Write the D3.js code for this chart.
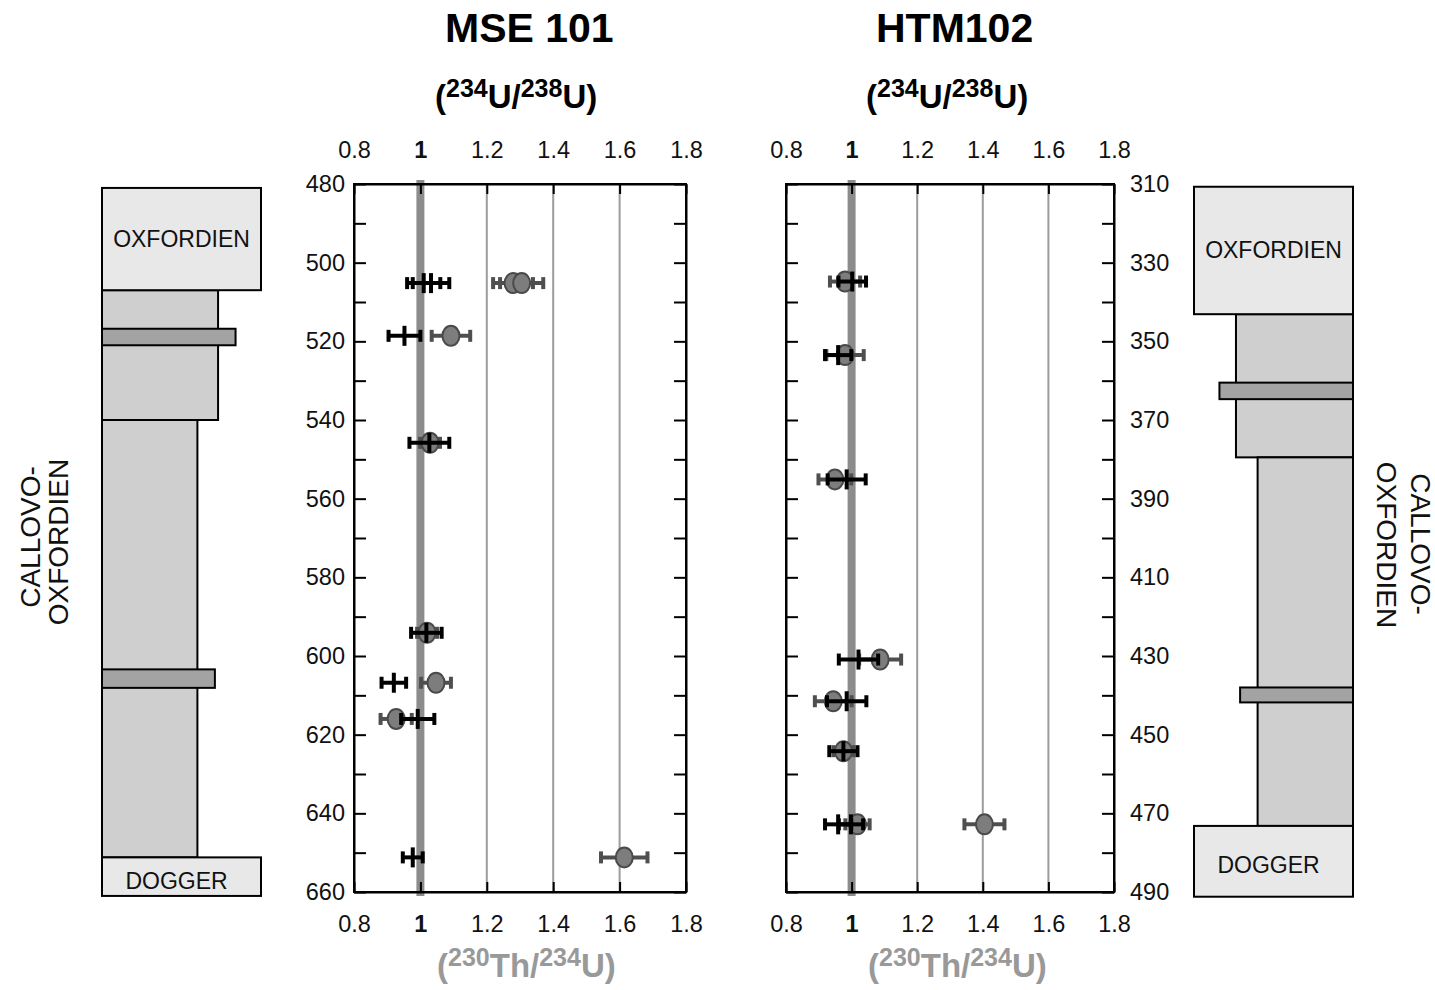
<!DOCTYPE html>
<html><head><meta charset="utf-8">
<script src="https://cdn.jsdelivr.net/npm/d3@7"></script>
<style>
body{margin:0;background:#fff}
svg{display:block}
text{font-family:"Liberation Sans",Arial,Helvetica,sans-serif}
</style>
</head><body>
<svg id="chart" width="1435" height="990"></svg>
<script>
// ---------------- DATA ----------------
const ratioTicks = [0.8, 1.0, 1.2, 1.4, 1.6, 1.8];
const gridValues = [1.2, 1.4, 1.6];
const equilibrium = 1.0;

const mseDepthLabels = [480, 500, 520, 540, 560, 580, 600, 620, 640, 660];
const htmDepthLabels = [310, 330, 350, 370, 390, 410, 430, 450, 470, 490];

// MSE 101 samples (depth m)
const mseDepth  = [505.2, 505.2, 518.6, 545.8, 594.1, 606.8, 616.0, 651.2];
const mseU      = [1.010, 1.032, 0.952, 1.027, 1.018, 0.920, 0.992, 0.977];   // (234U/238U)
const mseUerr   = [0.050, 0.055, 0.048, 0.060, 0.046, 0.037, 0.050, 0.030];
const mseTh     = [1.279, 1.305, 1.092, 1.029, 1.020, 1.047, 0.927, 1.614];   // (230Th/234U)
const mseThErr  = [0.060, 0.065, 0.058, 0.030, 0.030, 0.045, 0.047, 0.070];

// HTM102 samples (depth m)
const htmDepth  = [334.8, 353.5, 385.1, 430.9, 441.5, 454.2, 472.8, 472.8];
const htmU      = [1.002, 0.959, 0.985, 1.021, 0.985, 0.975, 0.959, 0.998];
const htmUerr   = [0.042, 0.040, 0.058, 0.060, 0.060, 0.043, 0.040, 0.037];
const htmTh     = [0.980, 0.980, 0.949, 1.087, 0.944, 0.975, 1.405, 1.018];
const htmThErr  = [0.046, 0.057, 0.050, 0.064, 0.056, 0.030, 0.061, 0.037];

// Stratigraphic columns: top/bottom depth, lithology index (relative column width), kind
const mseLayerTop    = [507.0, 540.0, 516.8, 603.4, 481.0, 651.2];
const mseLayerBottom = [540.0, 651.2, 521.0, 608.1, 507.0, 661.0];
const mseLayerLitho  = [0.73, 0.60, 0.84, 0.71, 1.0, 1.0];
const mseLayerKind   = ["clay", "clay", "band", "band", "formation", "formation"];
const mseLayerLabel  = ["", "", "", "", "OXFORDIEN", "DOGGER"];

const htmLayerTop    = [343.1, 379.5, 360.5, 438.0, 310.7, 473.2];
const htmLayerBottom = [379.5, 473.2, 364.7, 441.8, 343.1, 491.2];
const htmLayerLitho  = [0.736, 0.60, 0.84, 0.71, 1.0, 1.0];
const htmLayerKind   = ["clay", "clay", "band", "band", "formation", "formation"];
const htmLayerLabel  = ["", "", "", "", "OXFORDIEN", "DOGGER"];

const unitName = ["CALLOVO-", "OXFORDIEN"];

// ---------------- DRAW ----------------
const svg = d3.select("#chart");
const FONT = '"Liberation Sans",Arial,Helvetica,sans-serif';
const fill = {clay: "#cfcfcf", band: "#a3a3a3", formation: "#e8e8e8"};
const PLOT_TOP = 184, PLOT_BOTTOM = 892;

function ratioText(g, x, y, parts, color) {
  const t = g.append("text").attr("x", x).attr("y", y)
    .attr("font-weight", "bold").attr("font-size", 33).attr("fill", color);
  let sup = false;
  parts.forEach(p => {
    const isSup = p[1] === 1;
    const ts = t.append("tspan").text(p[0]);
    if (isSup) { ts.attr("font-size", 25).attr("dy", sup ? 0 : -11); }
    else { ts.attr("dy", sup ? 11 : 0); }
    sup = isSup;
  });
}

function drawPanel(cfg) {
  const x = d3.scaleLinear().domain([0.8, 1.8]).range(cfg.xRange);
  const y = d3.scaleLinear().domain(cfg.depthDomain).range([PLOT_TOP, PLOT_BOTTOM]);
  const g = svg.append("g");

  // grid lines
  g.selectAll("line.grid").data(gridValues).join("line")
    .attr("x1", d => x(d)).attr("x2", d => x(d))
    .attr("y1", PLOT_TOP).attr("y2", PLOT_BOTTOM)
    .attr("stroke", "#9c9c9c").attr("stroke-width", 2);
  // equilibrium line
  g.append("line").attr("x1", x(equilibrium)).attr("x2", x(equilibrium))
    .attr("y1", PLOT_TOP - 4).attr("y2", PLOT_BOTTOM + 4)
    .attr("stroke", "#8c8c8c").attr("stroke-width", 8);

  const fmt = d => d === 1 ? "1" : d3.format(".1f")(d);
  const styleAxis = sel => {
    sel.attr("font-family", FONT).attr("font-size", 23.5);
    sel.select(".domain").attr("stroke-width", 2);
    sel.selectAll(".tick line").attr("stroke-width", 2);
    sel.selectAll(".tick text").attr("fill", "#111");
  };

  const topAx = d3.axisTop(x).tickValues(ratioTicks).tickSize(-10).tickSizeOuter(0).tickPadding(26).tickFormat(fmt);
  g.append("g").attr("transform", `translate(0,${PLOT_TOP})`).call(topAx).call(styleAxis)
    .selectAll(".tick text").attr("font-weight", d => d === 1 ? "bold" : null);
  const botAx = d3.axisBottom(x).tickValues(ratioTicks).tickSize(-10).tickSizeOuter(0).tickPadding(23).tickFormat(fmt);
  g.append("g").attr("transform", `translate(0,${PLOT_BOTTOM})`).call(botAx).call(styleAxis)
    .selectAll(".tick text").attr("font-weight", d => d === 1 ? "bold" : null);

  const [d0, d1] = cfg.depthDomain;
  const depthTicks = d3.range(d0, d1 + 1, 10);
  const lab = d => cfg.depthLabels.includes(d) ? String(d) : "";
  const leftAx = d3.axisLeft(y).tickValues(depthTicks).tickSize(-12).tickSizeOuter(0).tickPadding(9)
    .tickFormat(cfg.labelSide === "left" ? lab : () => "");
  g.append("g").attr("transform", `translate(${cfg.xRange[0]},0)`).call(leftAx).call(styleAxis);
  const rightAx = d3.axisRight(y).tickValues(depthTicks).tickSize(-12).tickSizeOuter(0).tickPadding(16)
    .tickFormat(cfg.labelSide === "right" ? lab : () => "");
  g.append("g").attr("transform", `translate(${cfg.xRange[1]},0)`).call(rightAx).call(styleAxis);

  // frame
  g.append("rect").attr("x", cfg.xRange[0]).attr("y", PLOT_TOP)
    .attr("width", cfg.xRange[1] - cfg.xRange[0]).attr("height", PLOT_BOTTOM - PLOT_TOP)
    .attr("fill", "none").attr("stroke", "#000").attr("stroke-width", 2);

  const idx = d3.range(cfg.depth.length);

  // (230Th/234U) grey circles with error bars
  const th = g.append("g").attr("stroke", "#4f4f4f").attr("stroke-width", 4);
  idx.forEach(i => {
    const cy = y(cfg.depth[i]);
    const xa = x(cfg.th[i] - cfg.thErr[i]), xb = x(cfg.th[i] + cfg.thErr[i]);
    th.append("line").attr("x1", xa).attr("x2", xb).attr("y1", cy).attr("y2", cy);
    th.append("line").attr("x1", xa).attr("x2", xa).attr("y1", cy - 6).attr("y2", cy + 6);
    th.append("line").attr("x1", xb).attr("x2", xb).attr("y1", cy - 6).attr("y2", cy + 6);
  });
  idx.forEach(i => {
    g.append("ellipse").attr("cx", x(cfg.th[i])).attr("cy", y(cfg.depth[i]))
      .attr("rx", 8.5).attr("ry", 10).attr("fill", "#7d7d7d")
      .attr("stroke", "#4a4a4a").attr("stroke-width", 2);
  });

  // (234U/238U) black crosses with error bars
  const u = g.append("g").attr("stroke", "#000").attr("stroke-width", 4);
  idx.forEach(i => {
    const cy = y(cfg.depth[i]);
    const cx = x(cfg.u[i]);
    const xa = x(cfg.u[i] - cfg.uErr[i]), xb = x(cfg.u[i] + cfg.uErr[i]);
    u.append("line").attr("x1", xa).attr("x2", xb).attr("y1", cy).attr("y2", cy);
    u.append("line").attr("x1", xa).attr("x2", xa).attr("y1", cy - 6).attr("y2", cy + 6);
    u.append("line").attr("x1", xb).attr("x2", xb).attr("y1", cy - 6).attr("y2", cy + 6);
    u.append("line").attr("x1", cx).attr("x2", cx).attr("y1", cy - 10).attr("y2", cy + 10);
  });

  // titles
  svg.append("text").attr("x", cfg.titleX).attr("y", 42)
    .attr("font-size", 41).attr("font-weight", "bold").attr("fill", "#000").text(cfg.title);
  ratioText(svg, cfg.titleX - 10, 108, [["(",0],["234",1],["U/",0],["238",1],["U)",0]], "#000");
  ratioText(svg, cfg.titleX - 8, 977, [["(",0],["230",1],["Th/",0],["234",1],["U)",0]], "#999999");

  // stratigraphic column
  const w = d3.scaleLinear().domain([0, 1]).range([0, 159]);
  const col = svg.append("g");
  d3.range(cfg.layerTop.length).forEach(i => {
    const width = w(cfg.layerLitho[i]);
    const x0 = cfg.colSide === "right" ? cfg.colAnchor : cfg.colAnchor - width;
    const y0 = y(cfg.layerTop[i]), y1 = y(cfg.layerBottom[i]);
    col.append("rect").attr("x", x0).attr("y", y0).attr("width", width).attr("height", y1 - y0)
      .attr("fill", fill[cfg.layerKind[i]]).attr("stroke", "#000").attr("stroke-width", 2);
    if (cfg.layerLabel[i]) {
      const isDog = cfg.layerLabel[i] === "DOGGER";
      col.append("text").attr("x", x0 + width / 2 - (isDog ? 5 : 0))
        .attr("y", (y0 + y1) / 2 + (isDog ? 4 : 0) + 8)
        .attr("text-anchor", "middle").attr("font-size", 23).attr("fill", "#111")
        .text(cfg.layerLabel[i]);
    }
  });

  // rotated unit name
  cfg.unitPos.forEach((p, i) => {
    svg.append("text").attr("transform", `translate(${p[0]},${p[1]}) rotate(${cfg.unitRot})`)
      .attr("text-anchor", "middle").attr("dy", "0.35em").attr("font-size", 28).attr("fill", "#111")
      .text(unitName[i]);
  });
}

drawPanel({
  title: "MSE 101", titleX: 445,
  xRange: [354, 686], depthDomain: [480, 660], depthLabels: mseDepthLabels, labelSide: "left",
  depth: mseDepth, u: mseU, uErr: mseUerr, th: mseTh, thErr: mseThErr,
  layerTop: mseLayerTop, layerBottom: mseLayerBottom, layerLitho: mseLayerLitho,
  layerKind: mseLayerKind, layerLabel: mseLayerLabel,
  colSide: "right", colAnchor: 102,
  unitRot: -90, unitPos: [[30, 537], [58, 542]]
});
drawPanel({
  title: "HTM102", titleX: 876,
  xRange: [786, 1114], depthDomain: [310, 490], depthLabels: htmDepthLabels, labelSide: "right",
  depth: htmDepth, u: htmU, uErr: htmUerr, th: htmTh, thErr: htmThErr,
  layerTop: htmLayerTop, layerBottom: htmLayerBottom, layerLitho: htmLayerLitho,
  layerKind: htmLayerKind, layerLabel: htmLayerLabel,
  colSide: "left", colAnchor: 1353,
  unitRot: 90, unitPos: [[1421, 544], [1387, 545]]
});
</script>
</body></html>
